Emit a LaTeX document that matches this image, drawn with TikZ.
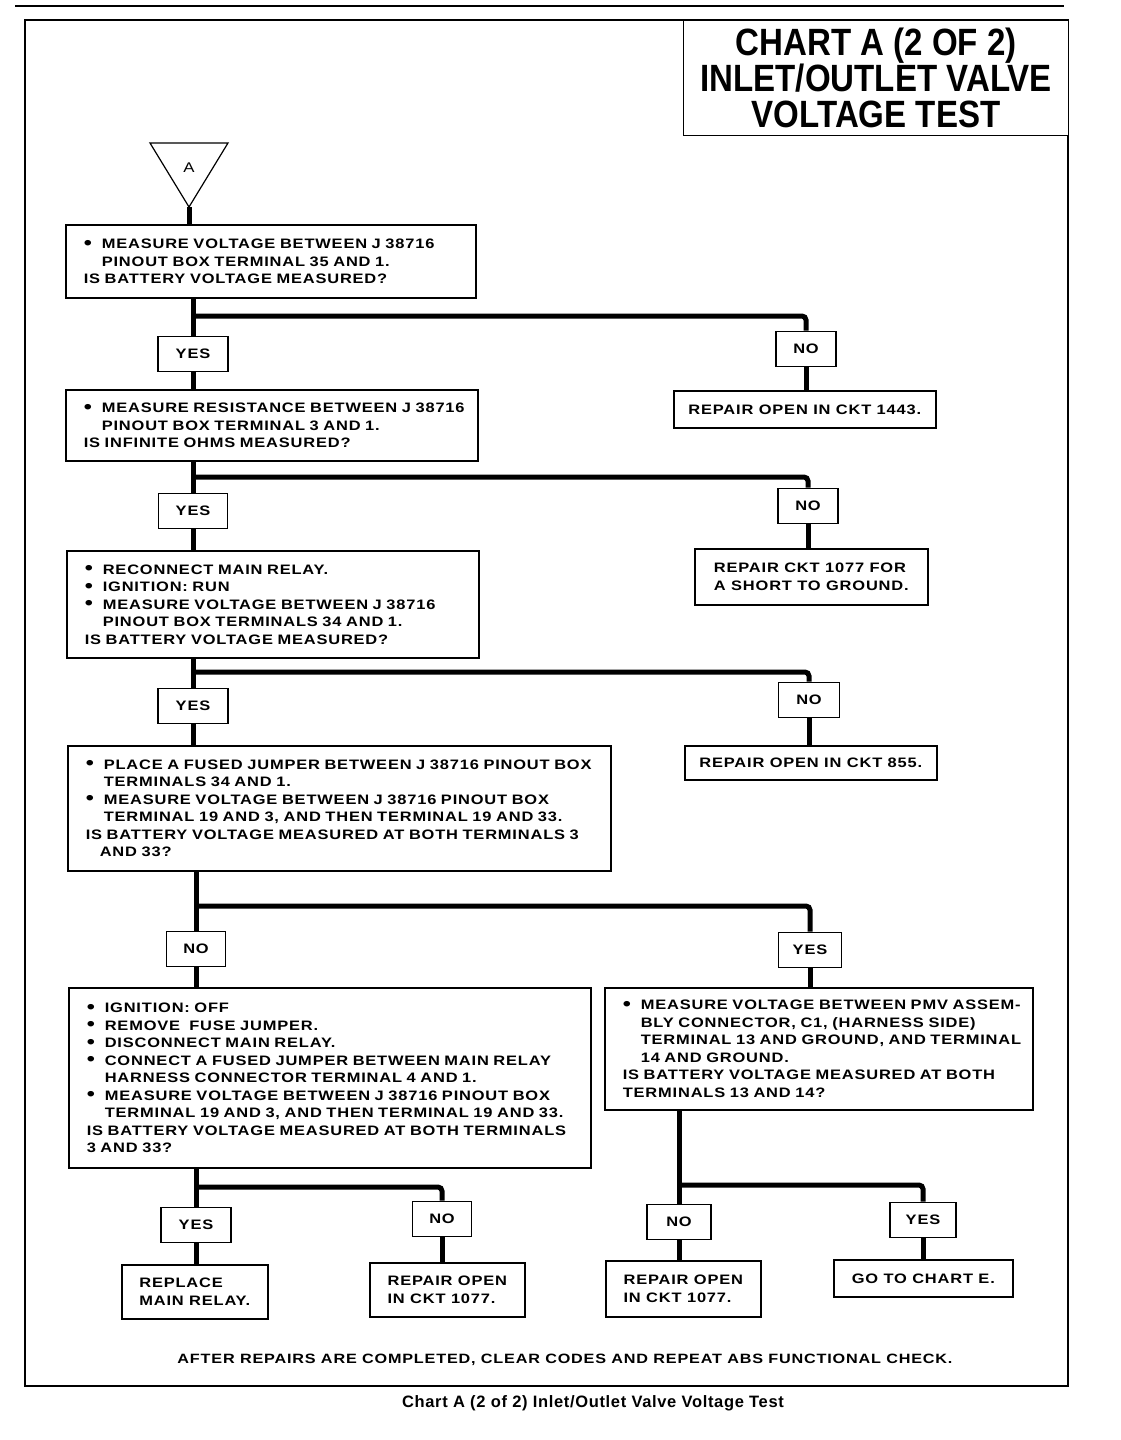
\documentclass[tikz,border=0pt]{standalone}
\usepackage{fontspec}
\setmainfont{Liberation Sans}
\newfontfamily\chartfont[FakeStretch=1.2,LetterSpace=6.0]{Liberation Sans}
\newfontfamily\titlefont[FakeStretch=0.87]{Liberation Sans}
\newfontfamily\capfont[LetterSpace=4.0]{Liberation Sans}
\newcommand{\bl}{\makebox[18pt][l]{\raisebox{-0.7pt}{\scalebox{1.4}{\textbullet}}}}
\newcommand{\ind}{\hspace*{18pt}}

\tikzset{
  box/.style={draw, line width=1.6pt, fill=white, font=\chartfont\bfseries\fontsize{13.7}{17.5}\selectfont},
  qbox/.style={box, anchor=north west, align=left, inner xsep=18pt, inner ysep=0pt},
  rbox/.style={box, anchor=north west, align=left, inner sep=0pt},
  yesno/.style={box, inner sep=0pt, minimum height=35pt},
  flow/.style={line width=5pt},
  thinline/.style={line width=1.2pt},
}

\begin{document}
\begin{tikzpicture}[x=1pt,y=-1pt]
  \useasboundingbox (0,0) rectangle (1120,1440);
  % page edge and frame
  \draw[line width=1.5pt] (15,6) -- (1064,6);
  \draw[thinline] (25,20) rectangle (1068,1386);
  \node[box, line width=1.2pt, anchor=north west, minimum width=385pt, minimum height=115pt,
        align=center, inner sep=0pt, font=\titlefont\bfseries\fontsize{38}{36}\selectfont]
        (title) at (683,20) {CHART A (2 OF 2)\\INLET/OUTLET VALVE\\VOLTAGE TEST};

  % entry point A
  \draw[thinline] (150,143) -- (228,143) -- (189,207) -- cycle;
  \node[font=\chartfont\fontsize{14}{15}\selectfont] (A) at (189,168) {A};
  \coordinate (apexA) at (189,207);

  % test boxes
  \node[qbox, text width=374pt, minimum height=73pt] (q1) at (65,224)
    {\bl MEASURE VOLTAGE BETWEEN J 38716\\
     \ind PINOUT BOX TERMINAL 35 AND 1.\\
     IS BATTERY VOLTAGE MEASURED?};
  \node[qbox, text width=376pt, minimum height=71pt] (q2) at (65,389)
    {\bl\mbox{MEASURE RESISTANCE BETWEEN J 38716}\\
     \ind PINOUT BOX TERMINAL 3 AND 1.\\
     IS INFINITE OHMS MEASURED?};
  \node[qbox, text width=376pt, minimum height=107pt] (q3) at (66,550)
    {\bl RECONNECT MAIN RELAY.\\
     \bl IGNITION: RUN\\
     \bl MEASURE VOLTAGE BETWEEN J 38716\\
     \ind PINOUT BOX TERMINALS 34 AND 1.\\
     IS BATTERY VOLTAGE MEASURED?};
  \node[qbox, text width=507pt, minimum height=125pt] (q4) at (67,745)
    {\bl\mbox{PLACE A FUSED JUMPER BETWEEN J 38716 PINOUT BOX}\\
     \ind TERMINALS 34 AND 1.\\
     \bl MEASURE VOLTAGE BETWEEN J 38716 PINOUT BOX\\
     \ind TERMINAL 19 AND 3, AND THEN TERMINAL 19 AND 33.\\
     IS BATTERY VOLTAGE MEASURED AT BOTH TERMINALS 3\\
     \hspace*{14pt}AND 33?};
  \node[qbox, text width=486pt, minimum height=180pt] (q5) at (68,987)
    {\bl IGNITION: OFF\\
     \bl REMOVE\ \ FUSE JUMPER.\\
     \bl DISCONNECT MAIN RELAY.\\
     \bl CONNECT A FUSED JUMPER BETWEEN MAIN RELAY\\
     \ind HARNESS CONNECTOR TERMINAL 4 AND 1.\\
     \bl MEASURE VOLTAGE BETWEEN J 38716 PINOUT BOX\\
     \ind TERMINAL 19 AND 3, AND THEN TERMINAL 19 AND 33.\\
     IS BATTERY VOLTAGE MEASURED AT BOTH TERMINALS\\
     3 AND 33?};
  \node[qbox, text width=392pt, minimum height=122pt] (q6) at (604,987)
    {\bl\mbox{MEASURE VOLTAGE BETWEEN PMV ASSEM-}\\
     \ind BLY CONNECTOR, C1, (HARNESS SIDE)\\
     \ind\mbox{TERMINAL 13 AND GROUND, AND TERMINAL}\\
     \ind 14 AND GROUND.\\
     IS BATTERY VOLTAGE MEASURED AT BOTH\\
     TERMINALS 13 AND 14?};

  % repair boxes
  \node[rbox, minimum width=262pt, minimum height=37pt] (r1) at (673,390) {REPAIR OPEN IN CKT 1443.};
  \node[rbox, minimum width=233pt, minimum height=56pt] (r2) at (694,548) {REPAIR CKT 1077 FOR\\A SHORT TO GROUND.};
  \node[rbox, minimum width=252pt, minimum height=34pt] (r3) at (684,745) {REPAIR OPEN IN CKT 855.};
  \node[rbox, minimum width=146pt, minimum height=54pt] (r5) at (121,1264) {REPLACE\\MAIN RELAY.};
  \node[rbox, minimum width=155pt, minimum height=54pt] (r6) at (369,1262) {REPAIR OPEN\\IN CKT 1077.};
  \node[rbox, minimum width=155pt, minimum height=56pt] (r7) at (605,1260) {REPAIR OPEN\\IN CKT 1077.};
  \node[rbox, minimum width=179pt, minimum height=37pt] (r8) at (833,1259) {GO TO CHART E.};

  % yes / no labels
  \node[yesno, minimum width=70pt] (yes1) at (193,354) {YES};
  \node[yesno, minimum width=60pt] (no1) at (806,349) {NO};
  \node[yesno, minimum width=69pt] (yes2) at (193,511) {YES};
  \node[yesno, minimum width=60pt] (no2) at (808,506) {NO};
  \node[yesno, minimum width=70pt] (yes3) at (193,706) {YES};
  \node[yesno, minimum width=61pt] (no3) at (809,700) {NO};
  \node[yesno, minimum width=59pt] (no4) at (196,949) {NO};
  \node[yesno, minimum width=63pt] (yes4) at (810,950) {YES};
  \node[yesno, minimum width=70pt] (yes5) at (196,1225) {YES};
  \node[yesno, minimum width=59pt] (no5) at (442,1219) {NO};
  \node[yesno, minimum width=64pt] (no6) at (679,1222) {NO};
  \node[yesno, minimum width=66pt] (yes6) at (923,1220) {YES};

  % branch points
  \coordinate (br1) at (193,316);
  \coordinate (br2) at (193,477);
  \coordinate (br3) at (193,672);
  \coordinate (br4) at (196,906);
  \coordinate (br5) at (196,1187);
  \coordinate (br6) at (679,1185);

  % flow lines
  \draw[flow] (apexA) -- (apexA |- q1.north);
  \draw[flow] (yes1 |- q1.south) -- (yes1.north);
  \draw[flow] (yes1.south) -- (yes1 |- q2.north);
  \draw[flow, rounded corners=4pt] (br1) -| (no1.north);
  \draw[flow] (no1.south) -- (no1 |- r1.north);
  \draw[flow] (yes2 |- q2.south) -- (yes2.north);
  \draw[flow] (yes2.south) -- (yes2 |- q3.north);
  \draw[flow, rounded corners=4pt] (br2) -| (no2.north);
  \draw[flow] (no2.south) -- (no2 |- r2.north);
  \draw[flow] (yes3 |- q3.south) -- (yes3.north);
  \draw[flow] (yes3.south) -- (yes3 |- q4.north);
  \draw[flow, rounded corners=4pt] (br3) -| (no3.north);
  \draw[flow] (no3.south) -- (no3 |- r3.north);
  \draw[flow] (no4 |- q4.south) -- (no4.north);
  \draw[flow] (no4.south) -- (no4 |- q5.north);
  \draw[flow, rounded corners=4pt] (br4) -| (yes4.north);
  \draw[flow] (yes4.south) -- (yes4 |- q6.north);
  \draw[flow] (yes5 |- q5.south) -- (yes5.north);
  \draw[flow] (yes5.south) -- (yes5 |- r5.north);
  \draw[flow, rounded corners=4pt] (br5) -| (no5.north);
  \draw[flow] (no5.south) -- (no5 |- r6.north);
  \draw[flow] (no6 |- q6.south) -- (no6.north);
  \draw[flow] (no6.south) -- (no6 |- r7.north);
  \draw[flow, rounded corners=4pt] (br6) -| (yes6.north);
  \draw[flow] (yes6.south) -- (yes6 |- r8.north);

  % closing note and caption
  \node[font=\chartfont\bfseries\fontsize{13.5}{15}\selectfont] (note) at (565,1360)
    {AFTER REPAIRS ARE COMPLETED, CLEAR CODES AND REPEAT ABS FUNCTIONAL CHECK.};
  \node[font=\capfont\bfseries\fontsize{16.5}{18}\selectfont] (caption) at (593,1403)
    {Chart A (2 of 2) Inlet/Outlet Valve Voltage Test};
\end{tikzpicture}
\end{document}
